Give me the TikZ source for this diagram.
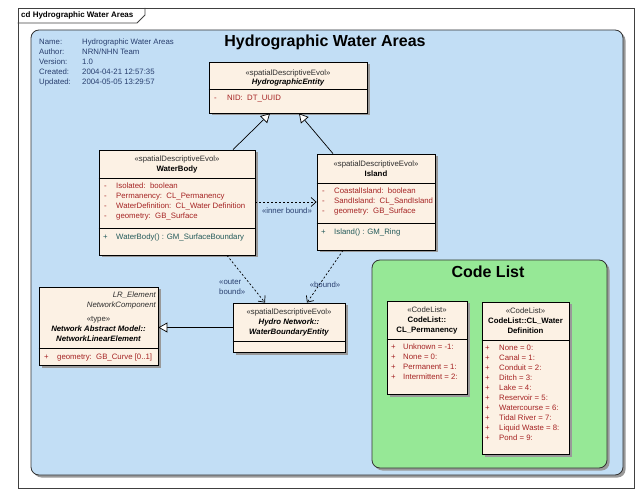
\documentclass[tikz,border=0pt]{standalone}
\usepackage{fontspec}
\setmainfont{Liberation Sans}
\usetikzlibrary{arrows.meta,shadows}
\definecolor{bluebg}{RGB}{194,222,245}
\definecolor{greenbg}{RGB}{150,232,150}
\definecolor{boxfill}{RGB}{252,241,228}
\definecolor{attrred}{RGB}{165,35,35}
\definecolor{opteal}{RGB}{35,90,90}
\definecolor{metablue}{RGB}{40,62,110}
\definecolor{stgray}{RGB}{45,45,45}
\tikzset{
  shad/.style={drop shadow={shadow xshift=2.5pt,shadow yshift=-2.5pt,fill=black!40,opacity=1}},
  umlbox/.style={draw=black,line width=0.8pt,fill=boxfill,shad,inner sep=0,rectangle},
  txt/.style={inner sep=0,font=\fontsize{7.8}{9.4}\selectfont,text height=5.8pt,text depth=1.7pt},
  ster/.style={txt,text=stgray},
  cname/.style={txt,font=\bfseries\fontsize{7.8}{9.4}\selectfont},
  aname/.style={txt,font=\bfseries\itshape\fontsize{7.8}{9.4}\selectfont},
  attr/.style={txt,anchor=west,text=attrred},
  oper/.style={txt,anchor=west,text=opteal},
  meta/.style={txt,anchor=west,text=metablue},
  gen/.style={draw=black,line width=0.7pt,-{Triangle[length=9pt,width=10pt,fill=white]}},
  dep/.style={draw=black,line width=0.7pt,dash pattern=on 2pt off 2pt,-{Straight Barb[length=5pt,width=9pt]}},
  deplbl/.style={txt,text=metablue},
}
\begin{document}
\begin{tikzpicture}[x=1pt,y=-1pt]
\useasboundingbox (0,0) rectangle (643,497);
% outer frame
\node[draw=black!75,line width=0.8pt,minimum width=616pt,minimum height=480pt,inner sep=0] (frame) at (326,248) {};
\draw[black!75,line width=0.8pt] (frame.north west |- 0,23) -- (137,23) -- (145,15) -- (145,8);
\node[txt,anchor=west,font=\bfseries\fontsize{8}{9.4}\selectfont] (frametitle) at (21,15.5) {cd Hydrographic Water Areas};
% blue package area
\node[draw=black!80,line width=0.8pt,fill=bluebg,rounded corners=8pt,shad,minimum width=592pt,minimum height=445pt,inner sep=0] (area) at (327,252.5) {};
\node[inner sep=0,font=\bfseries\fontsize{16}{19}\selectfont] (areatitle) at (325,42) {Hydrographic Water Areas};
% metadata
\node[meta] (m1) at (39,42) {Name:};
\node[meta] (m2) at (39,52) {Author:};
\node[meta] (m3) at (39,62) {Version:};
\node[meta] (m4) at (39,72) {Created:};
\node[meta] (m5) at (39,82) {Updated:};
\node[meta] (v1) at (82,42) {Hydrographic Water Areas};
\node[meta] (v2) at (82,52) {NRN/NHN Team};
\node[meta] (v3) at (82,62) {1.0};
\node[meta] (v4) at (82,72) {2004-04-21 12:57:35};
\node[meta] (v5) at (82,82) {2004-05-05 13:29:57};
% green code list area
\node[draw=black!80,line width=0.8pt,fill=greenbg,rounded corners=8pt,shad,minimum width=235pt,minimum height=208pt,inner sep=0] (codearea) at (489.5,364) {};
\node[inner sep=0,font=\bfseries\fontsize{16}{19}\selectfont] (codetitle) at (488,272) {Code List};

% HydrographicEntity
\node[umlbox,minimum width=158pt,minimum height=51pt] (he) at (288,87.5) {};
\draw[line width=0.8pt] (he.west |- 0,89) -- (he.east |- 0,89);
\node[ster] (he-s) at (288,73) {«spatialDescriptiveEvol»};
\node[aname] (he-n) at (288,82) {HydrographicEntity};
\node[attr] (he-p1) at (214,98) {-};
\node[attr] (he-a1) at (227,98) {NID:\ \ DT\_UUID};

% WaterBody
\node[umlbox,minimum width=156pt,minimum height=105pt] (wb) at (177,202.5) {};
\draw[line width=0.8pt] (wb.west |- 0,178) -- (wb.east |- 0,178);
\draw[line width=0.8pt] (wb.west |- 0,228) -- (wb.east |- 0,228);
\node[ster] (wb-s) at (177,159) {«spatialDescriptiveEvol»};
\node[cname] (wb-n) at (177,169) {WaterBody};
\node[attr] (wb-p1) at (104,186) {-};
\node[attr] (wb-p2) at (104,196) {-};
\node[attr] (wb-p3) at (104,206) {-};
\node[attr] (wb-p4) at (104,216) {-};
\node[attr] (wb-a1) at (116,186) {Isolated:\ \ boolean};
\node[attr] (wb-a2) at (116,196) {Permanency:\ \ CL\_Permanency};
\node[attr] (wb-a3) at (116,206) {WaterDefinition:\ \ CL\_Water Definition};
\node[attr] (wb-a4) at (116,216) {geometry:\ \ GB\_Surface};
\node[oper] (wb-q1) at (103,237) {+};
\node[oper] (wb-o1) at (116,237) {WaterBody() : GM\_SurfaceBoundary};

% Island
\node[umlbox,minimum width=118pt,minimum height=96pt] (isl) at (376,202) {};
\draw[line width=0.8pt] (isl.west |- 0,183) -- (isl.east |- 0,183);
\draw[line width=0.8pt] (isl.west |- 0,223) -- (isl.east |- 0,223);
\node[ster] (isl-s) at (376,164) {«spatialDescriptiveEvol»};
\node[cname] (isl-n) at (376,174) {Island};
\node[attr] (isl-p1) at (322,191) {-};
\node[attr] (isl-p2) at (322,201) {-};
\node[attr] (isl-p3) at (322,211) {-};
\node[attr] (isl-a1) at (334,191) {CoastalIsland:\ \ boolean};
\node[attr] (isl-a2) at (334,201) {SandIsland:\ \ CL\_SandIsland};
\node[attr] (isl-a3) at (334,211) {geometry:\ \ GB\_Surface};
\node[oper] (isl-q1) at (321,232) {+};
\node[oper] (isl-o1) at (334,232) {Island() : GM\_Ring};

% WaterBoundaryEntity
\node[umlbox,minimum width=112pt,minimum height=49pt] (wbe) at (289,327.5) {};
\draw[line width=0.8pt] (wbe.west |- 0,341) -- (wbe.east |- 0,341);
\node[ster] (wbe-s) at (289,312) {«spatialDescriptiveEvol»};
\node[aname] (wbe-n1) at (289,322) {Hydro Network::};
\node[aname] (wbe-n2) at (289,332) {WaterBoundaryEntity};

% NetworkLinearElement
\node[umlbox,minimum width=119pt,minimum height=78pt] (nle) at (98.5,326) {};
\draw[line width=0.8pt] (nle.west |- 0,348) -- (nle.east |- 0,348);
\node[txt,anchor=east,font=\itshape\fontsize{7.8}{9.4}\selectfont,text=stgray] (nle-t1) at (156,295) {LR\_Element};
\node[txt,anchor=east,font=\itshape\fontsize{7.8}{9.4}\selectfont,text=stgray] (nle-t2) at (156,305) {NetworkComponent};
\node[ster] (nle-s) at (98.5,319) {«type»};
\node[aname] (nle-n1) at (98.5,329) {Network Abstract Model::};
\node[aname] (nle-n2) at (98.5,339) {NetworkLinearElement};
\node[attr] (nle-p1) at (44,357) {+};
\node[attr] (nle-a1) at (57,357) {geometry:\ \ GB\_Curve [0..1]};

% CL_Permanency
\node[umlbox,minimum width=80pt,minimum height=93pt] (clp) at (427,347.5) {};
\draw[line width=0.8pt] (clp.west |- 0,339) -- (clp.east |- 0,339);
\node[ster] (clp-s) at (427,310) {«CodeList»};
\node[cname] (clp-n1) at (427,320) {CodeList::};
\node[cname] (clp-n2) at (427,330) {CL\_Permanency};
\node[attr] (clp-p1) at (391,347) {+};
\node[attr] (clp-p2) at (391,357) {+};
\node[attr] (clp-p3) at (391,367) {+};
\node[attr] (clp-p4) at (391,377) {+};
\node[attr] (clp-a1) at (403,347) {Unknown = -1:};
\node[attr] (clp-a2) at (403,357) {None = 0:};
\node[attr] (clp-a3) at (403,367) {Permanent = 1:};
\node[attr] (clp-a4) at (403,377) {Intermittent = 2:};

% CL_Water Definition
\node[umlbox,minimum width=87pt,minimum height=152pt] (clw) at (525.5,378) {};
\draw[line width=0.8pt] (clw.west |- 0,340) -- (clw.east |- 0,340);
\node[ster] (clw-s) at (525.5,311) {«CodeList»};
\node[cname] (clw-n1) at (525.5,321) {CodeList::CL\_Water};
\node[cname] (clw-n2) at (525.5,331) {Definition};
\foreach \i/\t in {0/None = 0:,1/Canal = 1:,2/Conduit = 2:,3/Ditch = 3:,4/Lake = 4:,5/Reservoir = 5:,6/Watercourse = 6:,7/Tidal River = 7:,8/Liquid Waste = 8:,9/Pond = 9:}{
  \node[attr] (clw-p\i) at (485,348+10*\i) {+};
  \node[attr] (clw-a\i) at (499,348+10*\i) {\t};
}

% connectors
\draw[gen] ([xshift=56pt]wb.north) -- ([xshift=-18pt]he.south);
\draw[gen] ([xshift=-43pt]isl.north) -- ([xshift=11pt]he.south);
\draw[gen] (wbe.west) -- (wbe.west -| nle.east);
\draw[dep] (wb.east |- isl.west) -- (isl.west);
\draw[dep] ([xshift=50pt]wb.south) -- ([xshift=-24pt]wbe.north);
\draw[dep] ([xshift=-33pt]isl.south) -- ([xshift=18pt]wbe.north);
\node[deplbl] (lbl-inner) at (287,211) {«inner bound»};
\node[deplbl,anchor=west,align=left] (lbl-outer) at (219,292) {«outer\\bound»};
\node[deplbl] (lbl-bound) at (325,285) {«bound»};
\end{tikzpicture}
\end{document}
